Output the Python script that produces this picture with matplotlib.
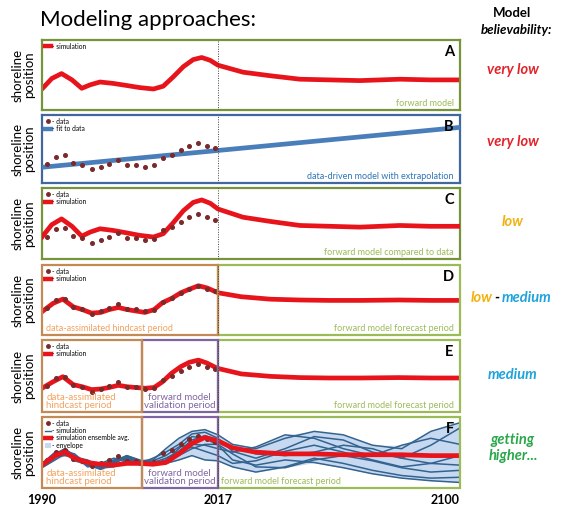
import matplotlib
matplotlib.use('Agg')
import matplotlib.pyplot as plt
import numpy as np
from matplotlib.lines import Line2D
from matplotlib.patches import Rectangle, Patch

plt.rcParams['font.family'] = ['Lato', 'DejaVu Sans']

sim_years = [1990, 1991.5, 1993.0, 1994.6, 1996.1, 1997.4, 1998.9, 2000.9, 2003.0, 2005.0,
             2007.1, 2008.6, 2010.1, 2011.7, 2013.2, 2014.5, 2015.8, 2017, 2025.6, 2034.8,
             2045.1, 2055.4, 2065.7, 2079.4, 2089.7, 2100]
sim_vals = [0.30, 0.45, 0.52, 0.43, 0.31, 0.36, 0.40, 0.38, 0.35, 0.32,
            0.30, 0.34, 0.47, 0.62, 0.72, 0.75, 0.71, 0.64, 0.54, 0.49,
            0.44, 0.43, 0.42, 0.44, 0.43, 0.43]

data_years = [1990.8, 1992.1, 1993.5, 1994.8, 1996.2, 1997.6, 1999.0, 2000.3, 2001.7, 2003.1,
              2004.4, 2005.8, 2007.2, 2008.5, 2009.9, 2011.3, 2012.6, 2014.0, 2015.3, 2016.6]
data_vals = [0.30, 0.395, 0.41, 0.31, 0.29, 0.23, 0.265, 0.30, 0.345, 0.29,
             0.29, 0.265, 0.28, 0.38, 0.42, 0.48, 0.54, 0.575, 0.54, 0.505]

fit_years = [1990, 2100]
fit_vals = [0.256, 0.778]

# data-assimilated hindcast + forecast (panel D)
assim_years = [1990, 1991.7, 1993.2, 1994.8, 1996.2, 1997.6, 1999.0, 2000.3, 2001.7, 2003.1,
               2004.4, 2005.8, 2007.2, 2008.5, 2009.9, 2011.3, 2012.6, 2014.0, 2015.3, 2017,
               2025, 2035, 2045, 2055, 2066, 2079, 2090, 2100]
assim_vals = [0.256, 0.359, 0.411, 0.316, 0.282, 0.239, 0.247, 0.282, 0.308, 0.282,
              0.265, 0.247, 0.282, 0.368, 0.42, 0.489, 0.532, 0.575, 0.549, 0.489,
              0.44, 0.41, 0.40, 0.395, 0.395, 0.40, 0.395, 0.395]

# hindcast + validation + forecast (panel E)
valid_years = [1990, 1991.7, 1993.2, 1994.8, 1996.2, 1997.6, 1999.0, 2000.3, 2001.7, 2003.1,
               2004.4, 2005.8, 2007.2, 2008.5, 2009.9, 2011.3, 2012.6, 2014.0, 2015.3, 2016.6,
               2017.5, 2025, 2035, 2045, 2055, 2066, 2079, 2090, 2100]
valid_vals = [0.274, 0.354, 0.416, 0.318, 0.292, 0.257, 0.265, 0.283, 0.31, 0.292,
              0.283, 0.274, 0.283, 0.354, 0.46, 0.54, 0.593, 0.62, 0.584, 0.531,
              0.513, 0.45, 0.42, 0.405, 0.40, 0.40, 0.405, 0.40, 0.40]

# ensemble (panel F)
ens_years = [1990, 1992, 1993.5, 1995, 1997, 1999, 2001, 2003, 2005, 2007, 2009, 2011,
             2013, 2015, 2017, 2022, 2030, 2040, 2050, 2060, 2070, 2080, 2090, 2100]
ens_avg = [0.24, 0.35, 0.39, 0.32, 0.27, 0.25, 0.24, 0.26, 0.26, 0.25, 0.27, 0.37,
           0.49, 0.56, 0.52, 0.44, 0.39, 0.37, 0.37, 0.36, 0.36, 0.36, 0.35, 0.35]
ens_members = [
    [0.22, 0.37, 0.43, 0.35, 0.26, 0.22, 0.29, 0.35, 0.29, 0.30, 0.43, 0.55, 0.63, 0.65, 0.59, 0.48, 0.43, 0.55, 0.63, 0.59, 0.47, 0.43, 0.63, 0.73],
    [0.26, 0.39, 0.40, 0.30, 0.29, 0.21, 0.22, 0.30, 0.26, 0.32, 0.39, 0.48, 0.60, 0.62, 0.55, 0.40, 0.32, 0.43, 0.57, 0.53, 0.39, 0.32, 0.47, 0.67],
    [0.21, 0.30, 0.37, 0.35, 0.22, 0.26, 0.32, 0.29, 0.25, 0.29, 0.35, 0.45, 0.48, 0.47, 0.43, 0.39, 0.45, 0.59, 0.55, 0.43, 0.35, 0.47, 0.55, 0.48],
    [0.25, 0.35, 0.39, 0.29, 0.25, 0.19, 0.26, 0.34, 0.27, 0.26, 0.30, 0.39, 0.45, 0.40, 0.35, 0.26, 0.29, 0.40, 0.47, 0.39, 0.30, 0.22, 0.26, 0.35],
    [0.23, 0.34, 0.35, 0.33, 0.30, 0.22, 0.27, 0.32, 0.26, 0.24, 0.27, 0.35, 0.43, 0.48, 0.48, 0.37, 0.22, 0.21, 0.30, 0.35, 0.29, 0.21, 0.16, 0.18],
    [0.22, 0.32, 0.40, 0.37, 0.24, 0.20, 0.25, 0.35, 0.30, 0.25, 0.26, 0.30, 0.35, 0.30, 0.29, 0.22, 0.16, 0.22, 0.32, 0.26, 0.18, 0.12, 0.09, 0.10],
    [0.24, 0.36, 0.42, 0.32, 0.27, 0.24, 0.30, 0.31, 0.24, 0.26, 0.29, 0.43, 0.57, 0.55, 0.47, 0.30, 0.24, 0.30, 0.27, 0.21, 0.14, 0.09, 0.06, 0.04],
    [0.25, 0.33, 0.38, 0.34, 0.26, 0.21, 0.28, 0.33, 0.28, 0.27, 0.32, 0.40, 0.53, 0.58, 0.53, 0.45, 0.37, 0.35, 0.39, 0.47, 0.43, 0.32, 0.26, 0.24],
]

start_year, valid_start, now_year, end_year = 1990, 2005.3, 2017, 2100
year_ticks = [1990, 2017, 2100]

# colours
RED = '#e8141c'
MAROON = '#7a2a2a'
FITBLUE = '#4a7ebb'
MEMBER = '#33638f'
ENV = '#c6d9f0'
OLIVE = '#77933c'
GREEN = '#9bbb59'
ORANGE_BOX = '#c48a55'
ORANGE_TXT = '#f2a25e'
PURPLE = '#8064a2'
BOXBLUE = '#41689e'


# schematic time axis: 1990-2017 stretched, 2017-2100 compressed
def fwd(y):
    return np.interp(y, [1990, 2017, 2100], [0, 0.421, 1])


def inv(u):
    return np.interp(u, [0, 0.421, 1], [1990, 2017, 2100])


W, H = 564, 507
fig = plt.figure(figsize=(W / 100, H / 100), dpi=100)


def box(top, bottom, left=42, right=460):
    return [left / W, 1 - bottom / H, (right - left) / W, (bottom - top) / H]


def make_panel(top, bottom, ylim, letter):
    ax = fig.add_axes(box(top, bottom))
    ax.set_xscale('function', functions=(fwd, inv))
    ax.set_xlim(start_year, end_year)
    ax.set_ylim(*ylim)
    ax.set_xticks([])
    ax.set_yticks([])
    ax.set_ylabel('shoreline\nposition', fontsize=9.5, linespacing=0.95, labelpad=5)
    ax.text(0.985, 0.83, letter, transform=ax.transAxes, ha='right', va='center',
            fontsize=10.5, fontweight='bold', zorder=10)
    ax.axvline(now_year, color='#404040', ls=(0, (1, 1.5)), lw=0.7, zorder=7)
    return ax


def frame(ax, color):
    for s in ax.spines.values():
        s.set_color(color)
        s.set_linewidth(1.6)


def period_box(ax, x0, x1, color):
    for s in ax.spines.values():
        s.set_visible(False)
    ax.add_patch(Rectangle((x0, 0), x1 - x0, 1, transform=ax.get_xaxis_transform(),
                           fill=False, edgecolor=color, lw=1.6, clip_on=False, zorder=6))


def corner_text(ax, txt, color, x=0.985, ha='right', xy_data=False, size=6.5):
    tr = ax.get_xaxis_transform() if xy_data else ax.transAxes
    ax.text(x, 0.03, txt, transform=tr, ha=ha, va='bottom', fontsize=size,
            color=color, zorder=10, linespacing=0.85)


sim_h = Line2D([], [], color=RED, lw=3.2)
data_h = Line2D([], [], ls='none', marker='o', ms=2.5, color=MAROON)
fit_h = Line2D([], [], color=FITBLUE, lw=3.2)
mem_h = Line2D([], [], color=MEMBER, lw=1.0)
env_h = Patch(facecolor=ENV, edgecolor='none')
leg_kw = dict(loc='upper left', fontsize=4.8, frameon=False, handlelength=0.9,
              handletextpad=0.15, labelspacing=0.05, borderaxespad=0.2, borderpad=0.2)

# A
axA = make_panel(40, 110, (0, 1), 'A')
frame(axA, OLIVE)
axA.plot(sim_years, sim_vals, color=RED, lw=3.4, solid_capstyle='round')
axA.legend([sim_h], ['- simulation'], **leg_kw)
corner_text(axA, 'forward model', GREEN)

# B
axB = make_panel(115, 183, (0.05, 0.94), 'B')
frame(axB, BOXBLUE)
axB.plot(fit_years, fit_vals, color=FITBLUE, lw=3.4, zorder=3)
axB.plot(data_years, data_vals, 'o', ms=2.6, color=MAROON, zorder=4)
axB.legend([data_h, fit_h], ['- data', '- fit to data'], **leg_kw)
corner_text(axB, 'data-driven model with extrapolation', '#2e75b6')

# C
axC = make_panel(188, 259, (0.033, 0.895), 'C')
frame(axC, OLIVE)
axC.plot(sim_years, sim_vals, color=RED, lw=3.4, zorder=3)
axC.plot(data_years, data_vals, 'o', ms=2.6, color=MAROON, zorder=4)
axC.legend([data_h, sim_h], ['- data', '- simulation'], **leg_kw)
corner_text(axC, 'forward model compared to data', GREEN)

# D
axD = make_panel(265, 335, (-0.03, 0.83), 'D')
period_box(axD, now_year, end_year, GREEN)
period_box(axD, start_year, now_year, ORANGE_BOX)
axD.plot(assim_years, assim_vals, color=RED, lw=3.4, zorder=3)
axD.plot(data_years, data_vals, 'o', ms=2.6, color=MAROON, zorder=4)
axD.legend([data_h, sim_h], ['- data', '- simulation'], **leg_kw)
corner_text(axD, 'forward model forecast period', GREEN)
corner_text(axD, 'data-assimilated hindcast period', ORANGE_TXT, x=0.01, ha='left')

# E
axE = make_panel(340, 412, (-0.018, 0.867), 'E')
period_box(axE, now_year, end_year, GREEN)
period_box(axE, valid_start, now_year, PURPLE)
period_box(axE, start_year, valid_start, ORANGE_BOX)
axE.plot(valid_years, valid_vals, color=RED, lw=3.4, zorder=3)
axE.plot(data_years, data_vals, 'o', ms=2.6, color=MAROON, zorder=4)
axE.legend([data_h, sim_h], ['- data', '- simulation'], **leg_kw)
corner_text(axE, 'forward model forecast period', GREEN)
corner_text(axE, 'data-assimilated\nhindcast period', ORANGE_TXT, x=0.01, ha='left', size=7)
corner_text(axE, 'forward model\nvalidation period', PURPLE, x=(valid_start + now_year) / 2,
            ha='center', xy_data=True, size=7)

# F
axF = make_panel(417, 488, (-0.024, 0.796), 'F')
period_box(axF, now_year, end_year, GREEN)
period_box(axF, valid_start, now_year, PURPLE)
period_box(axF, start_year, valid_start, ORANGE_BOX)
members = np.array(ens_members)
axF.fill_between(ens_years, members.min(axis=0), members.max(axis=0), color=ENV, lw=0, zorder=1)
for m in ens_members:
    axF.plot(ens_years, m, color=MEMBER, lw=1.1, zorder=2)
axF.plot(data_years, data_vals, 'o', ms=2.6, color=MAROON, zorder=3)
axF.plot(ens_years, ens_avg, color=RED, lw=3.4, zorder=4)
axF.legend([data_h, mem_h, sim_h, env_h],
           ['- data', '- simulation', '- simulation ensemble avg.', '- envelope'], **leg_kw)
corner_text(axF, 'forward model forecast period', GREEN, x=now_year + 1, ha='left', xy_data=True)
corner_text(axF, 'data-assimilated\nhindcast period', ORANGE_TXT, x=0.01, ha='left', size=7)
corner_text(axF, 'forward model\nvalidation period', PURPLE, x=(valid_start + now_year) / 2,
            ha='center', xy_data=True, size=7)
axF.set_xticks(year_ticks)
axF.set_xticklabels([str(y) for y in year_ticks], fontsize=9, fontweight='bold')
axF.tick_params(axis='x', length=0, pad=4)
axF.get_xticklabels()[-1].set_ha('right')


def ftext(x, y, s, **kw):
    fig.text(x / W, 1 - y / H, s, **kw)


ftext(40, 20, 'Modeling approaches:', fontsize=16, ha='left', va='center')
ftext(512, 13, 'Model', fontsize=9.5, fontweight='bold', ha='center', va='center')
ftext(516, 30, 'believability:', fontsize=9.5, fontweight='bold', style='italic',
      ha='center', va='center')

rk = dict(fontsize=10.5, fontweight='bold', style='italic', va='center')
ftext(513, 70, 'very low', color='#e2232a', ha='center', **rk)
ftext(513, 142, 'very low', color='#e2232a', ha='center', **rk)
ftext(513, 222, 'low', color='#f2b20f', ha='center', **rk)
ftext(493, 298, 'low', color='#f2b20f', ha='right', **rk)
ftext(497, 298, '-', color='black', ha='center', **rk)
ftext(502, 298, 'medium', color='#1fa3dc', ha='left', **rk)
ftext(513, 375, 'medium', color='#1fa3dc', ha='center', **rk)
ftext(513, 448, 'getting\nhigher...', color='#2aa84a', ha='center', linespacing=1.1, **rk)

fig.savefig('out.png', dpi=100)
